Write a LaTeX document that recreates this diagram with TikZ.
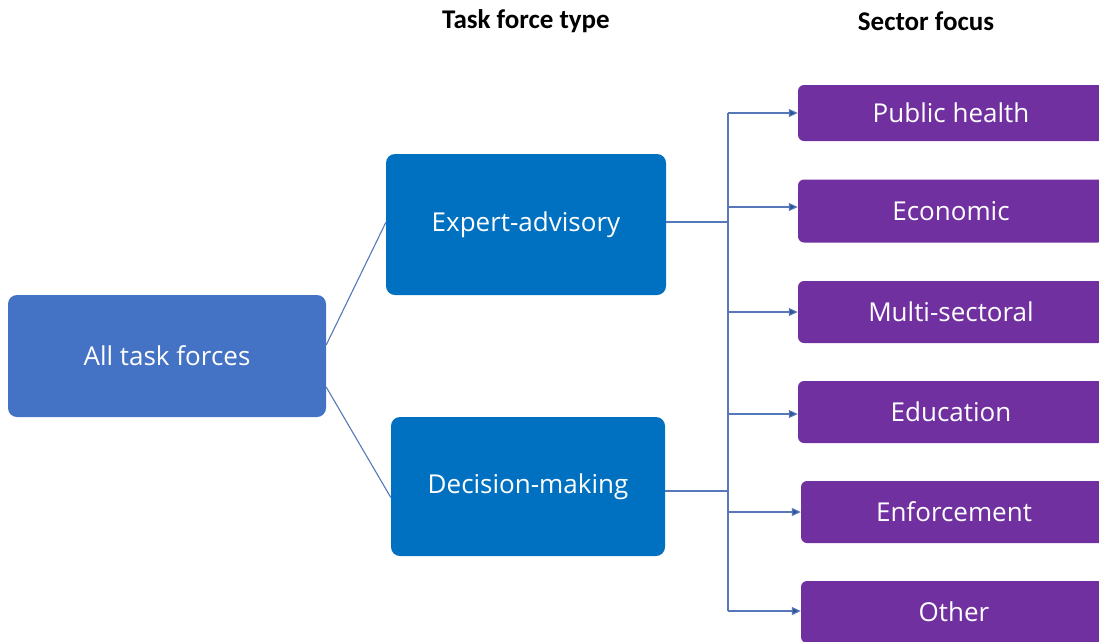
\documentclass[tikz,border=0pt]{standalone}
\usepackage{fontspec}
\setmainfont{Open Sans}
\newfontfamily\headfont{Carlito}
\usetikzlibrary{arrows.meta}
\definecolor{allblue}{HTML}{4472C4}
\definecolor{typeblue}{HTML}{0070C0}
\definecolor{sectorpurple}{HTML}{7030A0}
\definecolor{linkblue}{HTML}{5677B8}
\definecolor{tipblue}{HTML}{2F5597}
\begin{document}
\begin{tikzpicture}[x=1pt,y=-1pt,
    box/.style={rounded corners=9pt, text=white, inner sep=0pt,
        font=\fontsize{26}{30}\selectfont},
    sectorbox/.style={box, fill=sectorpurple, rounded corners=6pt,
        minimum width=306pt},
    header/.style={font=\headfont\bfseries\fontsize{27}{31}\selectfont},
    link/.style={draw=linkblue, line width=1.1pt},
    arr/.style={link, -{Triangle[length=9pt,width=8pt,fill=tipblue]}}]
    \useasboundingbox (0,0) rectangle (1099,641);
    \clip (0,0) rectangle (1099,641);

    \node[header] (typehead) at (526,21) {Task force type};
    \node[header] (sectorhead) at (926,21) {Sector focus};

    % left and middle column
    \node[box, fill=allblue, minimum width=318pt, minimum height=122pt] (all) at (167,356) {All task forces};
    \node[box, fill=typeblue, minimum width=280pt, minimum height=141pt] (expert) at (526,224.5) {Expert-advisory};
    \node[box, fill=typeblue, minimum width=274pt, minimum height=139pt] (decision) at (528,486.5) {Decision-making};

    % sector column
    \node[sectorbox, minimum height=56pt] (health) at (951,113) {Public health};
    \node[sectorbox, minimum height=63pt] (economic) at (951,211) {Economic};
    \node[sectorbox, minimum height=62pt] (multi) at (951,312) {Multi-sectoral};
    \node[sectorbox, minimum height=62pt] (education) at (951,412) {Education};
    \node[sectorbox, minimum height=62pt] (enforce) at (954,512) {Enforcement};
    \node[sectorbox, minimum height=62pt] (other) at (954,612) {Other};

    \draw[link] ([yshift=11pt]all.east) -- ([yshift=2pt]expert.west);
    \draw[link] ([yshift=-31pt]all.east) -- ([yshift=-11pt]decision.west);

    \coordinate (bustop) at (728,113);
    \coordinate (busbot) at (728,611);
    \coordinate (expjoin) at (728,222);
    \coordinate (decjoin) at (728,491);
    \draw[link] (bustop) -- (busbot);
    \draw[link] (expert.east |- expjoin) -- (expjoin);
    \draw[link] (decision.east |- decjoin) -- (decjoin);

    \draw[arr] (bustop) -- (health.west |- bustop);
    \draw[arr] (bustop |- 0,207) -- (economic.west |- 0,207);
    \draw[arr] (bustop |- multi.west) -- (multi.west);
    \draw[arr] (bustop |- 0,414) -- (education.west |- 0,414);
    \draw[arr] (bustop |- enforce.west) -- (enforce.west);
    \draw[arr] (busbot) -- (other.west |- busbot);
\end{tikzpicture}
\end{document}
